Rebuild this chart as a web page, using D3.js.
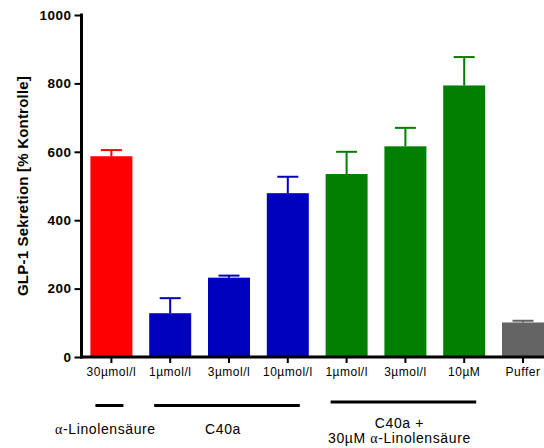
<!DOCTYPE html>
<html lang="de">
<head>
<meta charset="UTF-8">
<title>GLP-1 Sekretion</title>
<style>
  body { margin: 0; background: #fff; }
  text { font-family: Arial, "Liberation Sans", sans-serif; }
  .axis path, .axis line { stroke: #000; }
</style>
</head>
<body>
<svg id="chart" width="544" height="448"></svg>
<script src="https://d3js.org/d3.v7.min.js"></script>
<script>
// bar data
const categories = ["30µmol/l", "1µmol/l", "3µmol/l", "10µmol/l", "1µmol/l", "3µmol/l", "10µM", "Puffer"];
const values = [587, 128, 232, 479, 535, 616, 794, 101];
const errors = [18, 44, 6, 48, 65, 54, 83, 5];
const colors = ["#ff0000", "#0000bf", "#0000bf", "#0000bf", "#007f00", "#007f00", "#007f00", "#646464"];
const yTicks = [0, 200, 400, 600, 800, 1000];

// groups under the axis: [first bar, last bar, label lines]
const groups = [
  { from: 0, to: 0, lines: [["", "α", "-Linolensäure"]] },
  { from: 1, to: 3, lines: [["C40a", "", ""]] },
  { from: 4, to: 6, lines: [["C40a +", "", ""], ["30µM ", "α", "-Linolensäure"]] }
];

const svg = d3.select("#chart");
const idx = d3.range(categories.length);

const x = d3.scaleBand()
  .domain(idx)
  .range([82, 552.4])
  .paddingInner(0.286)
  .paddingOuter(0.143);

const y = d3.scaleLinear()
  .domain([0, 1000])
  .range([357, 15]);

// bars
svg.append("g").selectAll("rect")
  .data(idx)
  .join("rect")
  .attr("x", i => x(i))
  .attr("y", i => y(values[i]))
  .attr("width", x.bandwidth())
  .attr("height", i => y(0) - y(values[i]))
  .attr("fill", i => colors[i]);

// error bars (upper only)
const err = svg.append("g").selectAll("g")
  .data(idx)
  .join("g")
  .attr("stroke", i => colors[i])
  .attr("stroke-width", 2);

err.append("line")
  .attr("x1", i => x(i) + x.bandwidth() / 2)
  .attr("x2", i => x(i) + x.bandwidth() / 2)
  .attr("y1", i => y(values[i]))
  .attr("y2", i => y(values[i] + errors[i]));

err.append("line")
  .attr("x1", i => x(i) + x.bandwidth() / 2 - 10.5)
  .attr("x2", i => x(i) + x.bandwidth() / 2 + 10.5)
  .attr("y1", i => y(values[i] + errors[i]))
  .attr("y2", i => y(values[i] + errors[i]));

// y axis
const yAxis = svg.append("g")
  .attr("class", "axis")
  .attr("transform", "translate(81.5,0)")
  .call(d3.axisLeft(y).tickValues(yTicks).tickFormat(d3.format("d"))
    .tickSize(7).tickSizeOuter(0).tickPadding(3));
yAxis.select(".domain").attr("stroke-width", 3).attr("d", "M0,13.5V358.5");
yAxis.selectAll(".tick line").attr("stroke-width", 2);
yAxis.selectAll(".tick text")
  .attr("font-size", 13.5)
  .attr("font-weight", "bold")
  .attr("letter-spacing", 0.5)
  .attr("fill", "#000");

// x axis
const xAxis = svg.append("g")
  .attr("class", "axis")
  .attr("transform", "translate(0,357)")
  .call(d3.axisBottom(x).tickFormat(i => categories[i]).tickSize(6).tickSizeOuter(0).tickPadding(4));
xAxis.select(".domain").attr("stroke-width", 3).attr("d", "M80,0H544");
xAxis.selectAll(".tick line").attr("stroke-width", 2);
xAxis.selectAll(".tick text")
  .attr("font-size", 12)
  .attr("letter-spacing", 0.5)
  .attr("fill", "#000");

// y axis title
svg.append("text")
  .attr("transform", "translate(28,186) rotate(-90)")
  .attr("text-anchor", "middle")
  .attr("font-size", 15)
  .attr("font-weight", "bold")
  .attr("letter-spacing", 0.2)
  .text("GLP-1 Sekretion [% Kontrolle]");

// group lines and labels
groups.forEach(g => {
  const x1 = x(g.from) + 5;
  const x2 = x(g.to) + x.bandwidth() - 9;
  const ly = g.lines.length > 1 ? 402 : 405.5;
  svg.append("line")
    .attr("x1", x1).attr("x2", x2)
    .attr("y1", ly).attr("y2", ly)
    .attr("stroke", "#000")
    .attr("stroke-width", 3);

  const cx = (x1 + x2) / 2 - 4;
  const base = g.lines.length > 1 ? 428 : 434;
  g.lines.forEach((parts, k) => {
    const t = svg.append("text")
      .attr("x", cx)
      .attr("y", base + k * 15)
      .attr("text-anchor", "middle")
      .attr("font-size", 14)
      .attr("letter-spacing", 0.6)
      .attr("fill", "#000");
    t.append("tspan").text(parts[0]);
    if (parts[1]) {
      t.append("tspan").attr("font-family", "Liberation Serif, serif").text(parts[1]);
      t.append("tspan").text(parts[2]);
    }
  });
});
</script>
</body>
</html>
